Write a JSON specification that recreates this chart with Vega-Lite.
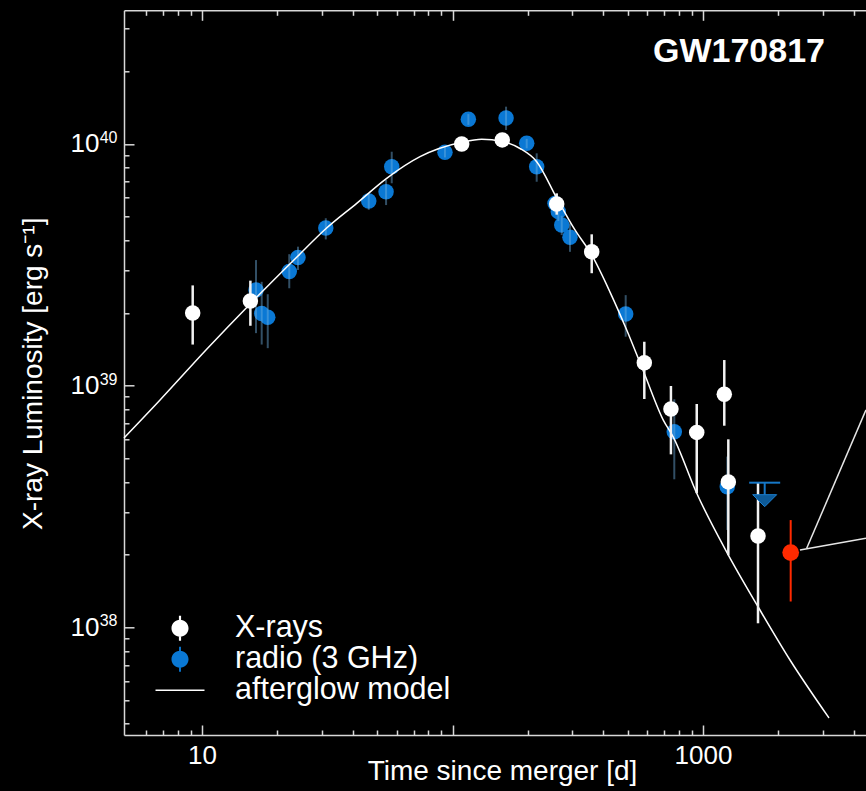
{
  "$schema": "https://vega.github.io/schema/vega-lite/v6.json",
  "width": 742,
  "height": 724.7,
  "autosize": {"type": "none"},
  "padding": {"left": 124, "top": 10.3, "right": 0, "bottom": 56},
  "background": "#000000",
  "config": {"font": "Liberation Sans", "view": {"stroke": null}, "axis": {"grid": false}},
  "title": {"text": "GW170817", "anchor": "end", "frame": "group", "fontSize": 34, "fontWeight": "bold", "color": "#ffffff", "baseline": "alphabetic", "offset": -35, "dx": -41, "dy": 51},
  "resolve": {"axis": {"x": "independent", "y": "independent"}},
  "datasets": {
    "xray": [
      {"t": 9.18, "L": 2.0e39, "lo": 1.48e39, "hi": 2.6e39},
      {"t": 15.6, "L": 2.24e39, "lo": 1.77e39, "hi": 2.72e39},
      {"t": 108.8, "L": 1.0e40, "lo": 0.96e40, "hi": 1.04e40},
      {"t": 158, "L": 1.04e40, "lo": 1.0e40, "hi": 1.08e40},
      {"t": 260.6, "L": 5.65e39, "lo": 5.1e39, "hi": 6.25e39},
      {"t": 359.5, "L": 3.58e39, "lo": 2.92e39, "hi": 4.23e39},
      {"t": 583, "L": 1.245e39, "lo": 8.81e38, "hi": 1.52e39},
      {"t": 744.7, "L": 8.01e38, "lo": 5.2e38, "hi": 9.97e38},
      {"t": 944, "L": 6.41e38, "lo": 3.59e38, "hi": 8.4e38},
      {"t": 1216, "L": 9.21e38, "lo": 6.83e38, "hi": 1.277e39},
      {"t": 1262, "L": 4.0e38, "lo": 1.99e38, "hi": 6.0e38},
      {"t": 1658, "L": 2.39e38, "lo": 1.04e38, "hi": 3.97e38}
    ],
    "radio": [
      {"t": 16.43, "L": 2.49e39, "lo": 1.65e39, "hi": 3.31e39},
      {"t": 17.31, "L": 1.99e39, "lo": 1.48e39, "hi": 2.69e39},
      {"t": 18.3, "L": 1.92e39, "lo": 1.43e39, "hi": 2.39e39},
      {"t": 22.3, "L": 2.97e39, "lo": 2.53e39, "hi": 3.5e39},
      {"t": 24.16, "L": 3.39e39, "lo": 3.01e39, "hi": 3.76e39},
      {"t": 31.2, "L": 4.49e39, "lo": 4.03e39, "hi": 4.93e39},
      {"t": 46.3, "L": 5.81e39, "lo": 5.34e39, "hi": 6.25e39},
      {"t": 54.3, "L": 6.35e39, "lo": 5.59e39, "hi": 7.1e39},
      {"t": 57.2, "L": 8.05e39, "lo": 6.88e39, "hi": 9.29e39},
      {"t": 93.3, "L": 9.24e39, "lo": 8.8e39, "hi": 9.7e39},
      {"t": 115.7, "L": 1.265e40, "lo": 1.2e40, "hi": 1.33e40},
      {"t": 163.6, "L": 1.28e40, "lo": 1.143e40, "hi": 1.427e40},
      {"t": 197.8, "L": 1.007e40, "lo": 0.96e40, "hi": 1.05e40},
      {"t": 216.8, "L": 8.05e39, "lo": 6.98e39, "hi": 9.15e39},
      {"t": 256.6, "L": 5.68e39, "lo": 5.2e39, "hi": 6.2e39},
      {"t": 264.5, "L": 5.25e39, "lo": 4.8e39, "hi": 5.7e39},
      {"t": 272.9, "L": 4.62e39, "lo": 4.2e39, "hi": 5.05e39},
      {"t": 294.4, "L": 4.11e39, "lo": 3.58e39, "hi": 4.7e39},
      {"t": 491.3, "L": 1.98e39, "lo": 1.595e39, "hi": 2.37e39},
      {"t": 768, "L": 6.45e38, "lo": 4.1e38, "hi": 8.79e38},
      {"t": 1250, "L": 3.82e38, "lo": 2.53e38, "hi": 5.09e38}
    ],
    "latest": [
      {"t": 2239, "L": 2.04e38, "lo": 1.28e38, "hi": 2.78e38}
    ],
    "ulim": [
      {"t": 1763, "L": 3.97e38}
    ],
    "callout": [
      {"t1": 2438, "L1": 2.09e38, "t2": 4474, "L2": 2.34e38},
      {"t1": 2594, "L1": 2.125e38, "t2": 4474, "L2": 7.94e38}
    ],
    "legendrows": [
      {"series": "X-rays"},
      {"series": "radio (3 GHz)"},
      {"series": "afterglow model"}
    ],
    "model": [
      {"t": 4.882, "L": 6.08e38},
      {"t": 6.8, "L": 8.73e38},
      {"t": 10.37, "L": 1.405e39},
      {"t": 15.63, "L": 2.19e39},
      {"t": 24.16, "L": 3.44e39},
      {"t": 31.2, "L": 4.46e39},
      {"t": 41.46, "L": 5.684e39},
      {"t": 54.6, "L": 7.21e39},
      {"t": 74.2, "L": 8.86e39},
      {"t": 108.8, "L": 1.016e40},
      {"t": 130.8, "L": 1.046e40},
      {"t": 158, "L": 1.024e40},
      {"t": 186, "L": 9.58e39},
      {"t": 216.8, "L": 8.45e39},
      {"t": 260.6, "L": 5.98e39},
      {"t": 308.3, "L": 4.41e39},
      {"t": 359.5, "L": 3.475e39},
      {"t": 425.4, "L": 2.44e39},
      {"t": 496, "L": 1.70e39},
      {"t": 584.1, "L": 1.118e39},
      {"t": 694.2, "L": 7.21e38},
      {"t": 761, "L": 6.13e38},
      {"t": 944, "L": 3.59e38},
      {"t": 1250, "L": 2.03e38},
      {"t": 1658, "L": 1.218e38},
      {"t": 2225, "L": 7.33e37},
      {"t": 3184, "L": 4.22e37}
    ]
  },
  "layer": [
    {
      "data": {"name": "radio"},
      "mark": {"type": "circle", "size": 240, "opacity": 1, "color": "#0a78d4"},
      "encoding": {
        "x": {"field": "t", "type": "quantitative", "scale": {"type": "log", "domain": [4.882, 4474], "nice": false},
          "axis": {"orient": "bottom", "values": [6,7,8,9,10,20,30,40,50,60,70,80,90,100,200,300,400,500,600,700,800,900,1000,2000,3000,4000], "labels": false, "title": null, "domain": true, "domainColor": "#d8d8d8", "domainWidth": 1.5, "ticks": true, "tickColor": "#d8d8d8", "tickWidth": 1.5,
            "tickSize": {"condition": {"test": "datum.value == 10 || datum.value == 100 || datum.value == 1000", "value": -10}, "value": -5}}},
        "y": {"field": "L", "type": "quantitative", "scale": {"type": "log", "domain": [3.588e37, 3.574e40], "nice": false},
          "axis": {"orient": "left", "values": [4e37,5e37,6e37,7e37,8e37,9e37,1e38,2e38,3e38,4e38,5e38,6e38,7e38,8e38,9e38,1e39,2e39,3e39,4e39,5e39,6e39,7e39,8e39,9e39,1e40,2e40,3e40], "labels": false, "title": null, "domain": true, "domainColor": "#d8d8d8", "domainWidth": 1.5, "ticks": true, "tickColor": "#d8d8d8", "tickWidth": 1.5,
            "tickSize": {"condition": {"test": "datum.value == 1e38 || datum.value == 1e39 || datum.value == 1e40", "value": -10}, "value": -5}}}
      }
    },
    {
      "data": {"name": "radio"},
      "mark": {"type": "rule", "color": "#6fb0e0", "opacity": 0.45, "strokeWidth": 2},
      "encoding": {
        "x": {"field": "t", "type": "quantitative", "scale": {"type": "log", "domain": [4.882, 4474], "nice": false},
          "axis": {"orient": "bottom", "values": [10, 1000], "ticks": false, "domain": false, "labels": true, "labelColor": "#ffffff", "labelFontSize": 26, "labelPadding": 7, "labelFlush": false, "labelOverlap": false, "labelExpr": "datum.value == 10 ? '10' : '1000'",
            "title": "Time since merger [d]", "titleColor": "#ffffff", "titleFontSize": 28, "titleFontWeight": "normal", "titleX": 378, "titleY": 44, "titleBaseline": "alphabetic", "titleAlign": "center"}},
        "y": {"field": "lo", "type": "quantitative", "scale": {"type": "log", "domain": [3.588e37, 3.574e40], "nice": false},
          "axis": {"orient": "left", "values": [1e38, 1e39, 1e40], "ticks": false, "domain": false, "labelColor": "#ffffff", "labelFontSize": 26, "labelPadding": 25, "labelFlush": false, "labelOverlap": false,
            "labelExpr": "'10'",
            "title": "X-ray Luminosity [erg s⁻¹]", "titleColor": "#ffffff", "titleFontSize": 28, "titleFontWeight": "normal", "titleAngle": -90, "titleX": -82.3, "titleY": 363, "titleBaseline": "alphabetic", "titleAlign": "center"}},
        "y2": {"field": "hi"}
      }
    },
    {
      "data": {"name": "model"},
      "mark": {"type": "line", "strokeWidth": 1.5, "interpolate": "monotone", "color": "#ffffff"},
      "encoding": {
        "x": {"field": "t", "type": "quantitative", "scale": {"type": "log", "domain": [4.882, 4474], "nice": false},
          "axis": {"orient": "top", "values": [6,7,8,9,10,20,30,40,50,60,70,80,90,100,200,300,400,500,600,700,800,900,1000,2000,3000,4000], "labels": false, "title": null, "domain": true, "domainColor": "#d8d8d8", "domainWidth": 1.5, "ticks": true, "tickColor": "#d8d8d8", "tickWidth": 1.5,
            "tickSize": {"condition": {"test": "datum.value == 10 || datum.value == 100 || datum.value == 1000", "value": -10}, "value": -5}}},
        "y": {"field": "L", "type": "quantitative", "scale": {"type": "log", "domain": [3.588e37, 3.574e40], "nice": false},
          "axis": {"orient": "left", "values": [1e38, 1e39, 1e40], "ticks": false, "domain": false, "labelColor": "#ffffff", "labelFontSize": 16, "labelPadding": 7, "labelOffset": -6.5, "labelFlush": false, "labelOverlap": false,
            "labelExpr": "datum.value == 1e40 ? '40' : (datum.value == 1e39 ? '39' : '38')", "title": null}}
      }
    },
    {
      "data": {"name": "xray"},
      "mark": {"type": "rule", "color": "#f2f2f2", "strokeWidth": 2.5},
      "encoding": {
        "x": {"field": "t", "type": "quantitative", "scale": {"type": "log", "domain": [4.882, 4474], "nice": false}, "axis": null},
        "y": {"field": "lo", "type": "quantitative", "scale": {"type": "log", "domain": [3.588e37, 3.574e40], "nice": false}, "axis": null},
        "y2": {"field": "hi"}
      }
    },
    {
      "data": {"name": "xray"},
      "mark": {"type": "circle", "size": 240, "opacity": 1, "color": "#ffffff"},
      "encoding": {
        "x": {"field": "t", "type": "quantitative", "scale": {"type": "log", "domain": [4.882, 4474], "nice": false}, "axis": null},
        "y": {"field": "L", "type": "quantitative", "scale": {"type": "log", "domain": [3.588e37, 3.574e40], "nice": false}, "axis": null}
      }
    },
    {
      "data": {"name": "latest"},
      "mark": {"type": "rule", "color": "#ff2a00", "strokeWidth": 2},
      "encoding": {
        "x": {"field": "t", "type": "quantitative", "scale": {"type": "log", "domain": [4.882, 4474], "nice": false}, "axis": null},
        "y": {"field": "lo", "type": "quantitative", "scale": {"type": "log", "domain": [3.588e37, 3.574e40], "nice": false}, "axis": null},
        "y2": {"field": "hi"}
      }
    },
    {
      "data": {"name": "latest"},
      "mark": {"type": "circle", "size": 280, "opacity": 1, "color": "#ff2a00"},
      "encoding": {
        "x": {"field": "t", "type": "quantitative", "scale": {"type": "log", "domain": [4.882, 4474], "nice": false}, "axis": null},
        "y": {"field": "L", "type": "quantitative", "scale": {"type": "log", "domain": [3.588e37, 3.574e40], "nice": false}, "axis": null}
      }
    },
    {
      "data": {"name": "ulim"},
      "mark": {"type": "tick", "orient": "horizontal", "size": 31, "thickness": 2, "color": "#1678c8", "opacity": 1},
      "encoding": {
        "x": {"field": "t", "type": "quantitative", "scale": {"type": "log", "domain": [4.882, 4474], "nice": false}, "axis": null},
        "y": {"field": "L", "type": "quantitative", "scale": {"type": "log", "domain": [3.588e37, 3.574e40], "nice": false}, "axis": null}
      }
    },
    {
      "data": {"name": "ulim"},
      "mark": {"type": "rule", "color": "#1678c8", "strokeWidth": 2, "y2Offset": 12},
      "encoding": {
        "x": {"field": "t", "type": "quantitative", "scale": {"type": "log", "domain": [4.882, 4474], "nice": false}, "axis": null},
        "y": {"field": "L", "type": "quantitative", "scale": {"type": "log", "domain": [3.588e37, 3.574e40], "nice": false}, "axis": null},
        "y2": {"field": "L"}
      }
    },
    {
      "data": {"name": "ulim"},
      "mark": {"type": "point", "shape": "M-1,-0.5L1,-0.5L0,0.5Z", "size": 576, "filled": true, "fill": "#0d5a98", "stroke": "#1b7fd0", "strokeWidth": 1, "opacity": 1, "yOffset": 18},
      "encoding": {
        "x": {"field": "t", "type": "quantitative", "scale": {"type": "log", "domain": [4.882, 4474], "nice": false}, "axis": null},
        "y": {"field": "L", "type": "quantitative", "scale": {"type": "log", "domain": [3.588e37, 3.574e40], "nice": false}, "axis": null}
      }
    },
    {
      "data": {"name": "callout"},
      "mark": {"type": "rule", "color": "#e6e6e6", "strokeWidth": 1.5},
      "encoding": {
        "x": {"field": "t1", "type": "quantitative", "scale": {"type": "log", "domain": [4.882, 4474], "nice": false}, "axis": null},
        "y": {"field": "L1", "type": "quantitative", "scale": {"type": "log", "domain": [3.588e37, 3.574e40], "nice": false}, "axis": null},
        "x2": {"field": "t2"},
        "y2": {"field": "L2"}
      }
    },
    {
      "data": {"name": "legendrows"},
      "mark": {"type": "point", "filled": true, "opacity": 0},
      "encoding": {
        "color": {"field": "series", "type": "nominal",
          "scale": {"domain": ["X-rays", "radio (3 GHz)", "afterglow model"], "range": ["#ffffff", "#0a78d4", "#ffffff"]},
          "legend": {"title": null, "orient": "none", "legendX": 40.5, "legendY": 602.5, "symbolSize": 961, "symbolOpacity": 1, "symbolStrokeWidth": 0, "labelFontSize": 30.5, "labelColor": "#ffffff", "labelFont": "Liberation Sans", "labelLimit": 0, "labelOffset": 39.5, "rowPadding": -2, "padding": 0}},
        "shape": {"field": "series", "type": "nominal",
          "scale": {"domain": ["X-rays", "radio (3 GHz)", "afterglow model"],
            "range": [
              "M0.55,0A0.55,0.55 0 1,1 -0.55,0A0.55,0.55 0 1,1 0.55,0Z M-0.07,-0.806L0.07,-0.806L0.07,0.806L-0.07,0.806Z",
              "M0.55,0A0.55,0.55 0 1,1 -0.55,0A0.55,0.55 0 1,1 0.55,0Z M-0.06,-0.806L0.06,-0.806L0.06,0.806L-0.06,0.806Z",
              "M-1.58,-0.045L1.58,-0.045L1.58,0.045L-1.58,0.045Z"]},
          "legend": {"title": null, "orient": "none", "legendX": 40.5, "legendY": 602.5, "symbolSize": 961, "symbolOpacity": 1, "symbolStrokeWidth": 0, "labelFontSize": 30.5, "labelColor": "#ffffff", "labelFont": "Liberation Sans", "labelLimit": 0, "labelOffset": 39.5, "rowPadding": -2, "padding": 0}}
      }
    }
  ]
}
